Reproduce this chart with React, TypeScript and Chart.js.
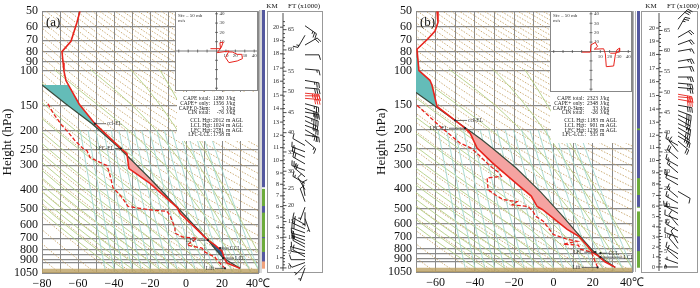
import React, { useEffect, useRef } from 'react';
import { Chart, registerables } from 'chart.js';
Chart.register(...registerables);

const SERIF = "'Liberation Serif', 'Times New Roman', serif";
const GRID = '#8a8a8a';
const RED = '#e8241d';

// ---------------- axis / reference-line values ----------------
const pressureGrid = [50, 60, 70, 80, 90, 100, 150, 200, 250, 300, 400, 500, 600, 700, 800, 850, 900, 925, 1050];
const pressureLabeled = [50, 60, 70, 80, 90, 100, 150, 200, 250, 300, 400, 500, 600, 700, 800, 900, 1050];
const refPressures = [1050, 1000, 950, 900, 850, 800, 750, 700, 650, 600, 550, 500, 450, 400, 350, 300, 250, 200, 175, 150, 125, 100, 90, 80, 70, 60, 50];
const dryThetaK = [190, 200, 210, 220, 230, 240, 250, 260, 270, 280, 290, 300, 310, 320, 330, 340, 350, 360, 370, 380, 390, 400, 410, 420, 430, 440, 450, 460, 470, 480, 490, 500, 510, 520, 530, 540, 550, 560, 570, 580, 590, 600, 610, 620, 630, 640, 650, 660, 670, 680, 690, 700, 710, 720, 730, 740];
const moistBaseC = [-40, -35, -30, -25, -20, -15, -10, -5, 0, 5, 10, 15, 20, 25, 30, 35, 40, 45];
const mixBaseTdC = [-45, -40, -35, -30, -25, -20, -15, -10, -5, 0, 5, 10, 15, 20, 25, 30, 35, 40];
const kmLabels = [0, 1, 2, 3, 4, 5, 6, 7, 8, 9, 10, 11, 12, 13, 14, 15, 16, 17, 18, 19, 20];
const kmPressure = [990, 880, 785, 698, 620, 550, 487, 430, 376, 330, 286, 246, 213, 183, 157, 134, 114, 98, 83, 71, 61];
const ftTicks = [0, 1, 2, 3, 4, 5, 6, 7, 8, 9, 10, 11, 12, 13, 14, 15, 16, 17, 18, 19, 20, 21, 22, 23, 24, 25, 26, 27, 28, 29, 30, 31, 32, 33, 34, 35, 36, 37, 38, 39, 40, 41, 42, 43, 44, 45, 46, 47, 48, 49, 50, 51, 52, 53, 54, 55, 56, 57, 58, 59, 60, 61, 62, 63, 64, 65, 66, 67];
const hodoTicks = [-40, -30, -20, -10, 10, 20, 30, 40];
const hodoTickLabels = [10, 20, 30, 40];
const capeLabels = ['CAPE total:', 'CAPE+ only:', 'CAPE 0-3km:', 'CIN total:'];
const hgtLabels = ['CCL Hgt:', 'LCL Hgt:', 'LFC Hgt:', 'LFC-LCL:'];
const hgtUnits = ['m AGL', 'm AGL', 'm AGL', 'm'];
const layerColors = { b: '#55599f', g: '#6dab3c', o: '#f0a27c' };

// ---------------- panel (a) ----------------
const tempA_P = [50, 57, 71, 80, 91, 100, 112, 147, 185, 247, 262, 312, 370, 489, 524, 717, 760, 814, 876, 935, 995];
const tempA_T = [-58.9, -60.6, -63.9, -68.9, -68.3, -67.8, -66.7, -59.4, -50.6, -36.1, -32.8, -31.7, -20.0, -5.0, -3.3, 12.2, 16.1, 20.0, 21.1, 22.8, 30.0];
const dewA_P = [147, 163, 189, 201, 225, 247, 253, 274, 290, 301, 338, 388, 436, 484, 495, 506, 512, 537, 624, 661, 692, 700, 759, 786, 824, 873, 903, 995];
const dewA_T = [-76.7, -73.9, -68.9, -66.1, -61.7, -57.2, -55.0, -53.3, -47.8, -43.9, -42.2, -40.6, -35.6, -32.2, -25.6, -18.3, -10.6, -8.9, -6.1, -6.1, -1.7, 6.1, 0.6, 8.9, 10.6, 16.1, 17.2, 21.7];
const parcelA_P = [118, 147, 185, 247, 350, 506, 717, 805, 883, 995];
const parcelA_T = [-80.0, -66.7, -52.2, -36.7, -20.0, -3.3, 12.2, 16.7, 20.6, 30.0];
const hodoA_U = [-6.4, 4.3, 3.6, 7.1, 5.0, 0.7, 13.2, 9.6, 13.2, 22.0, 27.5, 26.8, 22.0, 16.8, 13.0];
const hodoA_V = [2.5, 2.5, 8.9, 9.6, 3.6, -1.8, 0.0, -7.1, -12.5, -10.7, -8.2, -3.6, -3.6, -1.1, -1.0];
const barbA_P = [60, 67, 75, 84, 99, 113, 123, 131, 135, 139, 148, 156, 163, 171, 180, 190, 200, 212, 225, 240, 258, 275, 297, 320, 345, 372, 400, 430, 460, 490, 520, 560, 600, 630, 660, 690, 720, 750, 780, 810, 840, 870, 900, 930, 960, 990];
const barbA_Dir = [125, 210, 60, 90, 95, 100, 95, 95, 90, 95, 105, 110, 100, 110, 115, 110, 120, 100, 130, 300, 290, 295, 300, 290, 310, 300, 330, 350, 340, 200, 180, 160, 300, 295, 290, 285, 290, 295, 300, 285, 280, 300, 270, 250, 225, 200];
const barbA_Kt = [25, 15, 20, 10, 15, 25, 30, 35, 35, 30, 25, 30, 30, 35, 30, 25, 25, 20, 15, 10, 15, 20, 20, 25, 20, 15, 10, 10, 10, 5, 5, 5, 15, 20, 20, 15, 15, 15, 10, 10, 10, 10, 10, 10, 5, 5];
const barbA_Red = [0, 0, 0, 0, 0, 0, 0, 1, 1, 1, 0, 0, 0, 0, 0, 0, 0, 0, 0, 0, 0, 0, 0, 0, 0, 0, 0, 0, 0, 0, 0, 0, 0, 0, 0, 0, 0, 0, 0, 0, 0, 0, 0, 0, 0, 0];
const layerA_Top = [50, 398, 482, 520, 690, 699, 820, 915];
const layerA_Bot = [388, 482, 520, 690, 699, 820, 915, 995];
const layerA_Kind = ['b', 'g', 'b', 'g', 'b', 'g', 'b', 'o'];
const capeA_Vals = ['1280', '1356', '3', '-76'];
const hgtA_Vals = ['2012', '1024', '2781', '1758'];
const annA_Name = ['ccl-EL', 'LFC-EL', 'LFC', 'CCL', 'LCL', 'Lift'];
const annA_T = [-50.6, -36.1, 12.2, 18.9, 20.6, 21.7];
const annA_P = [185, 247, 717, 786, 883, 995];
const annA_Side = ['R', 'L', 'L', 'R', 'R', 'L'];
const annA_Gap = [11, 6, 11, 9, 11, 10];

// ---------------- panel (b) ----------------
const tempB_P = [50, 57, 63, 69, 78, 100, 112, 119, 152, 179, 196, 208, 247, 293, 344, 388, 433, 489, 506, 555, 638, 690, 773, 833, 872, 935, 995];
const tempB_T = [-59.3, -58.8, -60.3, -63.9, -69.5, -68.5, -62.9, -61.8, -59.3, -50.1, -45.0, -42.4, -38.9, -31.2, -23.1, -17.0, -11.3, -8.3, -5.7, -0.6, 7.0, 12.7, 17.2, 19.8, 22.9, 26.4, 31.5];
const dewB_P = [150, 196, 233, 247, 268, 303, 331, 344, 350, 402, 426, 451, 462, 479, 489, 520, 548, 580, 677, 717, 733, 759, 768, 805, 833, 995];
const dewB_T = [-69.5, -56.7, -47.6, -42.0, -38.0, -32.5, -27.5, -26.5, -33.8, -33.3, -29.7, -25.6, -18.5, -21.0, -12.9, -10.3, -9.0, -5.2, -0.1, 7.0, 12.1, 5.0, 12.7, 13.7, 19.3, 22.5];
const parcelB_P = [86, 129, 154, 179, 203, 225, 247, 312, 411, 537, 676, 805, 883, 995];
const parcelB_T = [-95.0, -70.0, -59.3, -50.1, -42.4, -36.3, -31.2, -19.0, -6.7, 4.0, 12.7, 19.3, 23.9, 31.5];
const hodoB_U = [-9.6, -0.7, 0.0, 4.6, 7.1, 3.6, 13.6, 15.4, 16.4, 24.3, 26.1, 27.9, 30.7, 30.7, 26.1, 20.7];
const hodoB_V = [-0.7, -0.7, 7.1, 9.6, 5.4, 2.5, 2.9, -2.5, -16.1, -15.4, -3.6, 1.8, 3.6, 0.0, -1.8, -1.8];
const barbB_P = [55, 62, 68, 74, 80, 90, 97, 108, 116, 122, 132, 136, 140, 150, 160, 168, 176, 186, 195, 205, 215, 228, 240, 258, 280, 305, 330, 355, 380, 410, 440, 470, 500, 530, 570, 610, 650, 700, 750, 800, 850, 900, 950, 990];
const barbB_Dir = [45, 30, 60, 70, 80, 80, 85, 90, 95, 95, 100, 95, 100, 100, 110, 115, 120, 115, 120, 125, 120, 130, 300, 320, 310, 300, 310, 290, 300, 120, 310, 300, 280, 300, 290, 320, 300, 290, 330, 320, 300, 310, 290, 270];
const barbB_Kt = [30, 25, 20, 20, 15, 25, 20, 25, 25, 25, 30, 30, 30, 30, 30, 30, 25, 25, 30, 30, 20, 20, 15, 15, 20, 15, 15, 15, 10, 10, 15, 15, 15, 10, 10, 10, 15, 10, 10, 10, 10, 10, 5, 5];
const barbB_Red = [0, 0, 0, 0, 0, 0, 0, 0, 0, 0, 1, 1, 1, 0, 0, 0, 0, 0, 0, 0, 0, 0, 0, 0, 0, 0, 0, 0, 0, 0, 0, 0, 0, 0, 0, 0, 0, 0, 0, 0, 0, 0, 0, 0];
const layerB_Top = [50, 196, 200, 350, 426, 489, 520, 690, 825];
const layerB_Bot = [196, 200, 350, 426, 489, 494, 690, 820, 995];
const layerB_Kind = ['b', 'g', 'b', 'g', 'b', 'g', 'g', 'b', 'g'];
const capeB_Vals = ['2323', '2348', '33', '-26'];
const hgtB_Vals = ['1183', '901', '1236', '335'];
const annB_Name = ['ccl-EL', 'LFC-EL', 'LFC', 'CCL', 'LCL', 'Lift'];
const annB_T = [-50.1, -45.0, 21.3, 23.9, 23.9, 22.5];
const annB_P = [179, 196, 833, 843, 883, 995];
const annB_Side = ['R', 'L', 'L', 'R', 'R', 'L'];
const annB_Gap = [12, 16, 11, 7, 22, 16];

// ---------------- thermodynamic helpers for reference lines ----------------
function esat(tc: number) { return 6.112 * Math.exp((17.67 * tc) / (tc + 243.5)); }
function lapse(p: number, T: number) {
  const es = esat(T - 273.15);
  const rs = (0.622 * es) / Math.max(p - es, 1);
  return (287.04 * T + 2.501e6 * rs) / (1005.7 + (2.501e6 * 2.501e6 * rs * 0.622) / (287.04 * T * T));
}
function dryLine(theta: number) {
  return refPressures.map((p) => ({ x: theta * Math.pow(p / 1000, 0.2857) - 273.15, y: p }));
}
function moistLine(t0: number) {
  const up: any[] = [{ x: t0, y: 1000 }];
  let T = t0 + 273.15, lp = Math.log(1000), n = 0;
  const dl = -0.02;
  while (Math.exp(lp) > 100) {
    const k1 = lapse(Math.exp(lp), T);
    const k2 = lapse(Math.exp(lp + dl / 2), T + (k1 * dl) / 2);
    T += k2 * dl; lp += dl; n++;
    if (n % 5 === 0 || Math.exp(lp) <= 100) up.push({ x: T - 273.15, y: Math.exp(lp) });
  }
  let T2 = t0 + 273.15, lp2 = Math.log(1000);
  const dl2 = Math.log(1050 / 1000) / 3;
  for (let i = 0; i < 3; i++) {
    const k1 = lapse(Math.exp(lp2), T2);
    const k2 = lapse(Math.exp(lp2 + dl2 / 2), T2 + (k1 * dl2) / 2);
    T2 += k2 * dl2; lp2 += dl2;
  }
  return [{ x: T2 - 273.15, y: 1050 }].concat(up);
}
function mixLine(td0: number) {
  const e0 = esat(td0);
  const w = (0.622 * e0) / (1000 - e0);
  return refPressures.filter((p) => p >= 200).map((p) => {
    const e = (w * p) / (0.622 + w);
    const l = Math.log(e / 6.112);
    return { x: (243.5 * l) / (17.67 - l), y: p };
  });
}
function interpT(T: number[], P: number[], p: number) {
  for (let i = 0; i < P.length - 1; i++) {
    if (p >= P[i] && p <= P[i + 1]) {
      const f = (Math.log(p) - Math.log(P[i])) / (Math.log(P[i + 1]) - Math.log(P[i]));
      return T[i] + f * (T[i + 1] - T[i]);
    }
  }
  return p < P[0] ? T[0] : T[T.length - 1];
}
function between(T1: number[], P1: number[], T2: number[], P2: number[], pa: number, pb: number) {
  const a: any[] = [{ x: interpT(T1, P1, pa), y: pa }];
  P1.forEach((p, i) => { if (p > pa && p < pb) a.push({ x: T1[i], y: p }); });
  a.push({ x: interpT(T1, P1, pb), y: pb });
  const b: any[] = [{ x: interpT(T2, P2, pa), y: pa }];
  P2.forEach((p, i) => { if (p > pa && p < pb) b.push({ x: T2[i], y: p }); });
  b.push({ x: interpT(T2, P2, pb), y: pb });
  return a.concat(b.reverse());
}
function kmToP(km: number) {
  let i = Math.floor(km);
  if (i >= kmPressure.length - 1) i = kmPressure.length - 2;
  const f = km - i;
  return Math.exp(Math.log(kmPressure[i]) + f * (Math.log(kmPressure[i + 1]) - Math.log(kmPressure[i])));
}
const pts = (T: number[], P: number[]) => T.map((t, i) => ({ x: t, y: P[i] }));
const minus = (v: number) => (v < 0 ? '\u2212' + Math.abs(v) : String(v));

function drawBarb(ctx: any, x: number, y: number, dir: number, kt: number, color: string) {
  const L = 14, a = (dir * Math.PI) / 180;
  const ux = Math.sin(a), uy = -Math.cos(a);
  const fx = -uy, fy = ux;
  const ex = x + ux * L, ey = y + uy * L;
  ctx.strokeStyle = color; ctx.lineWidth = 0.9;
  ctx.beginPath(); ctx.moveTo(x, y); ctx.lineTo(ex, ey);
  let rem = Math.round(kt / 5) * 5, d = 0;
  while (rem >= 10) {
    const sx = ex - ux * d, sy = ey - uy * d;
    ctx.moveTo(sx, sy); ctx.lineTo(sx + fx * 5 + ux * 1.5, sy + fy * 5 + uy * 1.5);
    rem -= 10; d += 2.2;
  }
  if (rem >= 5) {
    if (d === 0) d = 2.2;
    const sx = ex - ux * d, sy = ey - uy * d;
    ctx.moveTo(sx, sy); ctx.lineTo(sx + fx * 2.6 + ux * 0.8, sy + fy * 2.6 + uy * 0.8);
  }
  ctx.stroke();
}

function makeMain(canvas: HTMLCanvasElement, c: any) {
  const ds: any[] = [];
  const base = { pointRadius: 0, showLine: true, fill: false, tension: 0 };
  dryThetaK.forEach((th) => ds.push({ ...base, data: dryLine(th), borderColor: 'rgba(196,160,96,0.95)', borderWidth: 0.9, borderDash: [1.5, 1.5], order: 90 }));
  moistBaseC.forEach((t0) => ds.push({ ...base, data: moistLine(t0), borderColor: '#b4cf84', borderWidth: 0.9, order: 80 }));
  mixBaseTdC.forEach((td) => ds.push({ ...base, data: mixLine(td), borderColor: '#a3d8cf', borderWidth: 0.9, order: 70 }));
  ds.push({ ...base, data: [{ x: c.xMin, y: c.surfP }, { x: c.xMax, y: c.surfP }, { x: c.xMax, y: 1050 }, { x: c.xMin, y: 1050 }], fill: 'shape', backgroundColor: 'rgba(188,160,98,0.8)', borderColor: 'transparent', borderWidth: 0, order: 60 });
  ds.push({ ...base, data: between(c.tT, c.tP, c.pT, c.pP, c.teal[0], c.teal[1]), fill: 'shape', backgroundColor: '#64bcb8', borderColor: 'transparent', borderWidth: 0, order: 50 });
  ds.push({ ...base, data: between(c.tT, c.tP, c.pT, c.pP, c.pink[0], c.pink[1]), fill: 'shape', backgroundColor: '#f5a3a1', borderColor: 'transparent', borderWidth: 0, order: 50 });
  if (c.cin) ds.push({ ...base, data: between(c.tT, c.tP, c.pT, c.pP, c.cin[0], c.cin[1]), fill: 'shape', backgroundColor: '#2f5c88', borderColor: 'transparent', borderWidth: 0, order: 50 });
  ds.push({ ...base, data: pts(c.pT, c.pP), borderColor: '#3c4b3c', borderWidth: 1.2, order: 20 });
  ds.push({ ...base, data: pts(c.tT, c.tP), borderColor: RED, borderWidth: 1.6, order: 10 });
  ds.push({ ...base, data: pts(c.dT, c.dP), borderColor: RED, borderWidth: 1.3, borderDash: [4, 2], order: 10 });

  const extras = {
    id: 'mainExtras',
    afterDatasetsDraw(chart: any) {
      const { ctx, chartArea } = chart;
      const x = chart.scales.x, y = chart.scales.y;
      ctx.save();
      ctx.font = `5.5px ${SERIF}`; ctx.textBaseline = 'middle';
      c.ann.name.forEach((nm: string, i: number) => {
        const px = x.getPixelForValue(c.ann.T[i]), py = y.getPixelForValue(c.ann.P[i]);
        const g = c.ann.gap[i], s = c.ann.side[i] === 'R' ? 1 : -1;
        ctx.strokeStyle = '#333'; ctx.lineWidth = 0.7;
        ctx.beginPath(); ctx.moveTo(px, py); ctx.lineTo(px + s * g, py); ctx.stroke();
        ctx.fillStyle = '#222';
        ctx.beginPath(); ctx.arc(px, py, 1.1, 0, Math.PI * 2); ctx.fill();
        ctx.fillStyle = '#333'; ctx.textAlign = s > 0 ? 'left' : 'right';
        ctx.fillText(nm, px + s * (g + 1), py);
      });
      ctx.fillStyle = '#111'; ctx.font = `13px ${SERIF}`; ctx.textAlign = 'left';
      ctx.fillText(c.label, chartArea.left + 4, chartArea.top + 11);
      const b = c.box;
      ctx.fillStyle = '#fff'; ctx.fillRect(b.x, b.y, b.w, b.h);
      ctx.fillStyle = '#222'; ctx.font = `5.5px ${SERIF}`;
      const yA = [7, 12, 16.5, 21], yB = [29, 34, 38.5, 43];
      capeLabels.forEach((l, i) => {
        ctx.textAlign = 'right'; ctx.fillText(l, b.x + 33, b.y + yA[i]);
        ctx.fillText(c.cape[i], b.x + 47, b.y + yA[i]);
        ctx.textAlign = 'left'; ctx.fillText('J/kg', b.x + 49, b.y + yA[i]);
      });
      hgtLabels.forEach((l, i) => {
        ctx.textAlign = 'right'; ctx.fillText(l, b.x + 35, b.y + yB[i]);
        ctx.fillText(c.hgt[i], b.x + 47, b.y + yB[i]);
        ctx.textAlign = 'left'; ctx.fillText(hgtUnits[i], b.x + 49, b.y + yB[i]);
      });
      ctx.restore();
    },
  };

  return new Chart(canvas, {
    type: 'line',
    data: { datasets: ds },
    options: {
      animation: false, responsive: false, devicePixelRatio: 1, events: [],
      layout: { padding: { left: c.padL, right: c.padR, top: c.padT, bottom: 0 } },
      plugins: { legend: { display: false }, tooltip: { enabled: false } },
      elements: { point: { radius: 0 }, line: { tension: 0 } },
      scales: {
        x: {
          type: 'linear', min: c.xMin, max: c.xMax,
          afterFit: (s: any) => { s.height = c.xH; },
          grid: { color: GRID, lineWidth: 1, drawTicks: false },
          border: { color: GRID },
          ticks: {
            stepSize: 10, autoSkip: false, maxRotation: 0, padding: 4, color: '#111',
            font: { family: SERIF, size: 12 },
            callback: (v: number) => (v % 20 === 0 ? (v === 40 ? '40\u2103' : minus(v)) : ''),
          },
        },
        y: {
          type: 'logarithmic', reverse: true, min: 50, max: 1050,
          afterFit: (s: any) => { s.width = 42; },
          afterBuildTicks: (s: any) => { s.ticks = pressureGrid.map((v) => ({ value: v })); },
          grid: { color: GRID, lineWidth: 1.2, drawTicks: false },
          border: { color: GRID },
          ticks: {
            autoSkip: false, padding: 4, color: '#111', font: { family: SERIF, size: 12 },
            callback: (v: number) => (pressureLabeled.indexOf(v) >= 0 ? String(v) : ''),
          },
          title: { display: true, text: 'Height (hPa)', color: '#111', font: { family: SERIF, size: 13 }, padding: { top: 0, bottom: 0 } },
        },
      },
    } as any,
    plugins: [extras],
  } as any);
}

function makeHodo(canvas: HTMLCanvasElement, U: number[], V: number[]) {
  const plug = {
    id: 'hodo',
    beforeDraw(chart: any) {
      const { ctx, width, height } = chart;
      ctx.save(); ctx.fillStyle = '#fff'; ctx.fillRect(0, 0, width, height); ctx.restore();
    },
    beforeDatasetsDraw(chart: any) {
      const { ctx, width, height } = chart;
      const x = chart.scales.x, y = chart.scales.y;
      const cx = x.getPixelForValue(0), cy = y.getPixelForValue(0);
      ctx.save();
      ctx.strokeStyle = '#444'; ctx.lineWidth = 0.7;
      ctx.beginPath();
      ctx.moveTo(0, cy); ctx.lineTo(width, cy); ctx.moveTo(cx, 0); ctx.lineTo(cx, height);
      hodoTicks.forEach((v) => {
        const px = x.getPixelForValue(v), py = y.getPixelForValue(v);
        ctx.moveTo(px, cy - 1.5); ctx.lineTo(px, cy + 1.5);
        ctx.moveTo(cx - 1.5, py); ctx.lineTo(cx + 1.5, py);
      });
      ctx.stroke();
      ctx.fillStyle = '#333'; ctx.font = `5px ${SERIF}`; ctx.textBaseline = 'middle';
      hodoTickLabels.forEach((v) => {
        ctx.textAlign = 'center'; ctx.fillText(String(v), x.getPixelForValue(v), cy + 5);
        ctx.textAlign = 'left'; ctx.fillText(String(v), cx + 3, y.getPixelForValue(v));
      });
      ctx.textAlign = 'left';
      ctx.fillText('Sfc \u2013 50 mb', 3, 5);
      ctx.fillText('m/s', 3, 10);
      ctx.restore();
    },
    afterDraw(chart: any) {
      const { ctx, width, height } = chart;
      ctx.save(); ctx.strokeStyle = '#888'; ctx.lineWidth = 1;
      ctx.strokeRect(0.5, 0.5, width - 1, height - 1); ctx.restore();
    },
  };
  return new Chart(canvas, {
    type: 'line',
    data: { datasets: [{ data: pts(U, V), borderColor: RED, borderWidth: 1, pointRadius: 0, fill: false, tension: 0 }] },
    options: {
      animation: false, responsive: false, devicePixelRatio: 1, events: [],
      layout: { padding: 0 },
      plugins: { legend: { display: false }, tooltip: { enabled: false } },
      scales: { x: { type: 'linear', min: -44, max: 44, display: false }, y: { type: 'linear', min: -43, max: 43, display: false } },
    } as any,
    plugins: [plug],
  } as any);
}

function makeKm(canvas: HTMLCanvasElement, k: any) {
  const plug = {
    id: 'km',
    afterDraw(chart: any) {
      const { ctx, chartArea } = chart;
      const y = chart.scales.y;
      const ln = (x1: number, y1: number, x2: number, y2: number) => { ctx.beginPath(); ctx.moveTo(x1, y1); ctx.lineTo(x2, y2); ctx.stroke(); };
      ctx.save();
      ctx.strokeStyle = '#b4b4b4'; ctx.lineWidth = 1;
      k.strips.forEach((sx: number) => ln(sx, chartArea.top, sx, chartArea.bottom));
      ctx.strokeStyle = '#999';
      ctx.strokeRect(k.boxL + 0.5, k.boxT + 0.5, k.boxR - k.boxL, k.boxB - k.boxT);
      ctx.strokeStyle = '#222'; ctx.lineWidth = 0.8;
      ln(k.axis, k.boxT + 2, k.axis, k.boxB - 1);
      ctx.fillStyle = '#222'; ctx.font = `6px ${SERIF}`; ctx.textBaseline = 'middle';
      ctx.textAlign = 'right';
      kmLabels.forEach((km, i) => {
        const py = y.getPixelForValue(kmPressure[i]);
        ln(k.axis - 3, py, k.axis, py);
        ctx.fillText(String(km), k.axis - 4, py);
      });
      ctx.textAlign = 'left';
      ftTicks.forEach((ft) => {
        const py = y.getPixelForValue(kmToP(ft * 0.3048));
        if (py < k.boxT + 3) return;
        const major = ft % 5 === 0;
        ln(k.axis, py, k.axis + (major ? 3.5 : 2), py);
        if (major) ctx.fillText(String(ft), k.axis + 5, py);
      });
      ctx.font = `7px ${SERIF}`; ctx.fillStyle = '#111';
      ctx.textAlign = 'center'; ctx.fillText('KM', k.kmX, 6);
      ctx.textAlign = 'left'; ctx.fillText('FT (x1000)', k.ftX, 6);
      k.barbP.forEach((p: number, i: number) => drawBarb(ctx, k.barbX, y.getPixelForValue(p), k.barbDir[i], k.barbKt[i], k.barbRed[i] ? RED : '#111'));
      ctx.restore();
    },
  };
  return new Chart(canvas, {
    type: 'bar',
    data: {
      labels: [''],
      datasets: k.top.map((t: number, i: number) => ({
        data: [[t, k.bot[i]]], backgroundColor: (layerColors as any)[k.kind[i]], borderWidth: 0,
        grouped: false, barPercentage: 1, categoryPercentage: 1,
      })),
    },
    options: {
      animation: false, responsive: false, devicePixelRatio: 1, events: [],
      layout: { padding: { left: k.padL, right: k.padR, top: k.padT, bottom: k.padB } },
      plugins: { legend: { display: false }, tooltip: { enabled: false } },
      scales: { x: { display: false }, y: { type: 'logarithmic', reverse: true, min: 50, max: 1050, display: false } },
    } as any,
    plugins: [plug],
  } as any);
}

export default function App() {
  const mainA = useRef<HTMLCanvasElement>(null);
  const mainB = useRef<HTMLCanvasElement>(null);
  const hodoA = useRef<HTMLCanvasElement>(null);
  const hodoB = useRef<HTMLCanvasElement>(null);
  const kmA = useRef<HTMLCanvasElement>(null);
  const kmB = useRef<HTMLCanvasElement>(null);

  useEffect(() => {
    const charts: any[] = [];
    charts.push(makeMain(mainA.current!, {
      xMin: -80, xMax: 40, padL: 0, padR: 87, padT: 10, xH: 15, surfP: 998,
      tT: tempA_T, tP: tempA_P, dT: dewA_T, dP: dewA_P, pT: parcelA_T, pP: parcelA_P,
      teal: [118, 247], pink: [247, 717], cin: [717, 883],
      ann: { name: annA_Name, T: annA_T, P: annA_P, side: annA_Side, gap: annA_Gap },
      label: '(a)', box: { x: 177, y: 92, w: 81, h: 49 }, cape: capeA_Vals, hgt: hgtA_Vals,
    }));
    charts.push(makeMain(mainB.current!, {
      xMin: -70, xMax: 40, padL: 24, padR: 18, padT: 11, xH: 16, surfP: 998,
      tT: tempB_T, tP: tempB_P, dT: dewB_T, dP: dewB_P, pT: parcelB_T, pP: parcelB_P,
      teal: [86, 153], pink: [153, 883], cin: null,
      ann: { name: annB_Name, T: annB_T, P: annB_P, side: annB_Side, gap: annB_Gap },
      label: '(b)', box: { x: 201, y: 92, w: 81, h: 51 }, cape: capeB_Vals, hgt: hgtB_Vals,
    }));
    charts.push(makeHodo(hodoA.current!, hodoA_U, hodoA_V));
    charts.push(makeHodo(hodoB.current!, hodoB_U, hodoB_V));
    charts.push(makeKm(kmA.current!, {
      padL: 4, padR: 80, padT: 10, padB: 15, strips: [1.5, 3], boxL: 9, boxR: 64, boxT: 11, boxB: 272,
      axis: 25, barbX: 47, kmX: 14, ftX: 30, top: layerA_Top, bot: layerA_Bot, kind: layerA_Kind,
      barbP: barbA_P, barbDir: barbA_Dir, barbKt: barbA_Kt, barbRed: barbA_Red,
    }));
    charts.push(makeKm(kmB.current!, {
      padL: 5, padR: 60, padT: 11, padB: 16, strips: [1.5, 3.5], boxL: 9, boxR: 65, boxT: 11, boxB: 272,
      axis: 27, barbX: 46, kmX: 19, ftX: 35, top: layerB_Top, bot: layerB_Bot, kind: layerB_Kind,
      barbP: barbB_P, barbDir: barbB_Dir, barbKt: barbB_Kt, barbRed: barbB_Red,
    }));
    return () => charts.forEach((ch) => ch.destroy());
  }, []);

  const abs = (l: number, t: number, w: number, h: number): any => ({ position: 'absolute', left: l, top: t, width: w, height: h });
  return (
    <div style={{ position: 'absolute', left: 0, top: 0, width: 700, height: 288, background: '#fff', overflow: 'hidden' }}>
      <canvas ref={mainA} width={345} height={288} style={abs(0, 0, 345, 288)} />
      <canvas ref={mainB} width={300} height={288} style={abs(350, 0, 300, 288)} />
      <canvas ref={kmA} width={87} height={288} style={abs(258, 0, 87, 288)} />
      <canvas ref={kmB} width={68} height={288} style={abs(632, 0, 68, 288)} />
      <canvas ref={hodoA} width={83} height={80} style={abs(175, 11, 83, 80)} />
      <canvas ref={hodoB} width={82} height={81} style={abs(550, 11, 82, 81)} />
    </div>
  );
}
